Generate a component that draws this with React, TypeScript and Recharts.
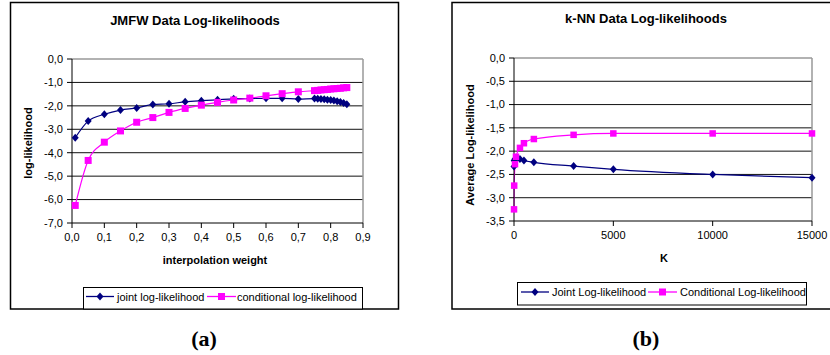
import React from 'react';
import { LineChart, Line, XAxis, YAxis, CartesianGrid, ReferenceLine } from 'recharts';

// ---------- data: (a) JMFW ----------
const jmfwWeights = [0.01, 0.05, 0.1, 0.15, 0.2, 0.25, 0.3, 0.35, 0.4, 0.45, 0.5, 0.55, 0.6, 0.65, 0.7, 0.75, 0.76, 0.77, 0.78, 0.79, 0.8, 0.81, 0.82, 0.83, 0.84, 0.85];
const jmfwJoint = [-3.36, -2.65, -2.36, -2.18, -2.09, -1.94, -1.91, -1.83, -1.78, -1.74, -1.7, -1.69, -1.68, -1.68, -1.71, -1.69, -1.7, -1.71, -1.72, -1.74, -1.75, -1.77, -1.8, -1.84, -1.88, -1.93];
const jmfwConditional = [-6.25, -4.33, -3.55, -3.07, -2.7, -2.5, -2.28, -2.11, -1.97, -1.85, -1.75, -1.67, -1.57, -1.48, -1.4, -1.35, -1.34, -1.32, -1.31, -1.3, -1.28, -1.27, -1.26, -1.25, -1.23, -1.22];
const jmfwXTicks = [0, 0.1, 0.2, 0.3, 0.4, 0.5, 0.6, 0.7, 0.8, 0.9];
const jmfwYTicks = [0, -1, -2, -3, -4, -5, -6, -7];

// ---------- data: (b) k-NN ----------
const knnK = [1, 10, 50, 100, 300, 500, 1000, 3000, 5000, 10000, 15000];
const knnJoint = [-2.33, -2.2, -2.17, -2.16, -2.17, -2.2, -2.24, -2.32, -2.39, -2.5, -2.57];
const knnConditional = [-3.25, -2.74, -2.28, -2.12, -1.93, -1.83, -1.74, -1.65, -1.62, -1.62, -1.62];
const knnXTicks = [0, 5000, 10000, 15000];
const knnYTicks = [0, -0.5, -1, -1.5, -2, -2.5, -3, -3.5];

const jmfwLegend = ['joint log-likelihood', 'conditional log-likelihood'];
const knnLegend = ['Joint Log-likelihood', 'Conditional Log-likelihood'];

const NAVY = '#000080';
const MAGENTA = '#FF00FF';
const FONT = "'Liberation Sans', Arial, Helvetica, sans-serif";

const jmfwData = jmfwWeights.map((w, i) => ({ w, joint: jmfwJoint[i], conditional: jmfwConditional[i] }));
const knnData = knnK.map((k, i) => ({ k, joint: knnJoint[i], conditional: knnConditional[i] }));

const comma = (v: number) => v.toFixed(1).replace('.', ',');

const diamondDot = (p: any) => {
  const { cx, cy, index } = p;
  if (cx == null || cy == null) return <g key={`d-${index}`} />;
  return (
    <polygon
      key={`d-${index}`}
      points={`${cx},${cy - 4} ${cx + 3.5},${cy} ${cx},${cy + 4} ${cx - 3.5},${cy}`}
      fill={NAVY}
    />
  );
};
const squareDot = (s: number) => (p: any) => {
  const { cx, cy, index } = p;
  if (cx == null || cy == null) return <g key={`s-${index}`} />;
  return <rect key={`s-${index}`} x={cx - s / 2} y={cy - s / 2} width={s} height={s} fill={MAGENTA} />;
};

const tickStyle = { fontSize: 11, fill: '#000', fontFamily: FONT };

function LegendBox({ x, y, w, h, labels, lineStarts, textStarts, cy }: any) {
  return (
    <g>
      <rect x={x} y={y} width={w} height={h} fill="#fff" stroke="#000" strokeWidth={1} />
      {/* joint */}
      <line x1={lineStarts[0]} x2={lineStarts[0] + 28} y1={cy} y2={cy} stroke={NAVY} strokeWidth={1.3} />
      <polygon
        points={`${lineStarts[0] + 14},${cy - 4} ${lineStarts[0] + 17.5},${cy} ${lineStarts[0] + 14},${cy + 4} ${lineStarts[0] + 10.5},${cy}`}
        fill={NAVY}
      />
      <text x={textStarts[0]} y={cy} fontSize={11} fontFamily={FONT} dominantBaseline="central">{labels[0]}</text>
      {/* conditional */}
      <line x1={lineStarts[1]} x2={lineStarts[1] + 29} y1={cy} y2={cy} stroke={MAGENTA} strokeWidth={1.3} />
      <rect x={lineStarts[1] + 11} y={cy - 3.5} width={7} height={7} fill={MAGENTA} />
      <text x={textStarts[1]} y={cy} fontSize={11} fontFamily={FONT} dominantBaseline="central">{labels[1]}</text>
    </g>
  );
}

export default function App() {
  return (
    <div style={{ position: 'absolute', left: 0, top: 0, width: 830, height: 355, background: '#fff', overflow: 'hidden' }}>
      <svg width={830} height={355} style={{ position: 'absolute', left: 0, top: 0 }}>
        {/* frames */}
        <rect x={10.5} y={2.5} width={388} height={306.5} fill="none" stroke="#000" strokeWidth={1.5} />
        <rect x={452} y={2.5} width={390} height={306.5} fill="none" stroke="#000" strokeWidth={1.5} />
        {/* titles */}
        <text x={195} y={20} textAnchor="middle" dominantBaseline="central" fontSize={13} fontWeight="bold" fontFamily={FONT}>JMFW Data Log-likelihoods</text>
        <text x={646} y={18} textAnchor="middle" dominantBaseline="central" fontSize={13} fontWeight="bold" fontFamily={FONT}>k-NN Data Log-likelihoods</text>
        {/* axis titles */}
        <text x={215} y={260} textAnchor="middle" dominantBaseline="central" fontSize={11} fontWeight="bold" fontFamily={FONT}>interpolation weight</text>
        <text x={28} y={143} textAnchor="middle" dominantBaseline="central" fontSize={11} fontWeight="bold" fontFamily={FONT} transform="rotate(-90 28 143)">log-likelihood</text>
        <text x={664} y={258} textAnchor="middle" dominantBaseline="central" fontSize={11} fontWeight="bold" fontFamily={FONT}>K</text>
        <text x={470} y={145} textAnchor="middle" dominantBaseline="central" fontSize={11} fontWeight="bold" fontFamily={FONT} transform="rotate(-90 470 145)">Average Log-likelihood</text>
        {/* legends */}
        <LegendBox x={83.5} y={287.5} w={279} h={21.5} labels={jmfwLegend} lineStarts={[86, 207]} textStarts={[117, 237]} cy={296.5} />
        <LegendBox x={517.5} y={282.5} w={289} h={22.5} labels={knnLegend} lineStarts={[521, 648]} textStarts={[552, 680]} cy={292} />
        {/* captions */}
        <text x={204} y={338} textAnchor="middle" dominantBaseline="central" fontSize={22} fontWeight="bold" fontFamily="'Liberation Serif', 'Times New Roman', serif">(a)</text>
        <text x={646} y={338} textAnchor="middle" dominantBaseline="central" fontSize={22} fontWeight="bold" fontFamily="'Liberation Serif', 'Times New Roman', serif">(b)</text>
      </svg>

      {/* chart (a) */}
      <div style={{ position: 'absolute', left: 10, top: 3 }}>
        <LineChart width={388} height={306} data={jmfwData} margin={{ top: 56, right: 35, left: 22, bottom: 56 }}>
          <CartesianGrid vertical={false} horizontalValues={[-1, -2, -3, -4, -5, -6]} stroke="#111" strokeWidth={1} />
          <ReferenceLine y={0} stroke="#999" strokeWidth={1.5} />
          <ReferenceLine x={0.9} stroke="#999" strokeWidth={1.5} />
          <XAxis
            dataKey="w"
            type="number"
            domain={[0, 0.9]}
            ticks={jmfwXTicks}
            tickFormatter={comma}
            height={30}
            tickSize={5}
            tickMargin={5}
            stroke="#000"
            tick={tickStyle}
            interval={0}
          />
          <YAxis
            type="number"
            domain={[-7, 0]}
            ticks={jmfwYTicks}
            tickFormatter={comma}
            width={40}
            tickSize={5}
            tickMargin={4}
            stroke="#000"
            tick={tickStyle}
            interval={0}
          />
          <Line type="monotone" dataKey="joint" stroke={NAVY} strokeWidth={1.2} dot={diamondDot} isAnimationActive={false} />
          <Line type="monotone" dataKey="conditional" stroke={MAGENTA} strokeWidth={1.2} dot={squareDot(7)} isAnimationActive={false} />
        </LineChart>
      </div>

      {/* chart (b) */}
      <div style={{ position: 'absolute', left: 452, top: 3 }}>
        <LineChart width={378} height={306} data={knnData} margin={{ top: 55, right: 18, left: 22, bottom: 58 }}>
          <CartesianGrid vertical={false} horizontalValues={[-0.5, -1, -1.5, -2, -2.5, -3]} stroke="#111" strokeWidth={1} />
          <ReferenceLine y={0} stroke="#999" strokeWidth={1.5} />
          <ReferenceLine x={15000} stroke="#999" strokeWidth={1.5} />
          <XAxis
            dataKey="k"
            type="number"
            domain={[0, 15000]}
            ticks={knnXTicks}
            height={30}
            tickSize={5}
            tickMargin={5}
            stroke="#000"
            tick={tickStyle}
            interval={0}
          />
          <YAxis
            type="number"
            domain={[-3.5, 0]}
            ticks={knnYTicks}
            tickFormatter={comma}
            width={40}
            tickSize={5}
            tickMargin={4}
            stroke="#000"
            tick={tickStyle}
            interval={0}
          />
          <Line type="monotone" dataKey="joint" stroke={NAVY} strokeWidth={1.2} dot={diamondDot} isAnimationActive={false} />
          <Line type="monotone" dataKey="conditional" stroke={MAGENTA} strokeWidth={1.2} dot={squareDot(6.5)} isAnimationActive={false} />
        </LineChart>
      </div>
    </div>
  );
}
